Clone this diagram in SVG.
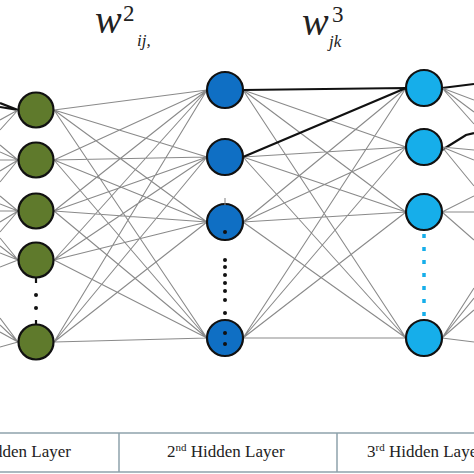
<svg xmlns="http://www.w3.org/2000/svg" width="474" height="474" viewBox="0 0 474 474">
<style>
.c{stroke:#8a8a8a;stroke-width:1.1;fill:none}
.k{stroke:#111;stroke-width:2.2;fill:none}
.g{fill:#5f7a2c;stroke:#111;stroke-width:2.2}
.d{fill:#0f6fc4;stroke:#111;stroke-width:2.2}
.l{fill:#16aeea;stroke:#111;stroke-width:2.2}
.dot{fill:#111}
text{font-family:Liberation Serif, Times New Roman, serif}
</style>
<rect width="474" height="474" fill="#fff"/>
<g id="titles" fill="#222">
<text x="95" y="33" font-size="40" font-style="italic">w</text>
<text x="123" y="21" font-size="23">2</text>
<text x="137" y="46" font-size="17" font-style="italic">ij,</text>
<text x="302" y="35" font-size="40" font-style="italic">w</text>
<text x="332" y="22" font-size="23">3</text>
<text x="329" y="47" font-size="17" font-style="italic">jk</text>
</g>
<g id="connectors">
<path class="k" d="M0,103L18,110M0,107L18,110"/>
<path class="c" d="M0,120L18,110M0,130L18,110
M0,145L18,160M0,152L18,160M0,160L18,160M0,171L18,160M0,182L18,160
M0,196L18,211M0,204L18,211M0,211L18,211M0,222L18,211M0,232L18,211
M0,238L18,260M0,246L18,260M0,253L18,260M0,267L18,260
M0,318L18,342M0,325L18,342M0,332L18,342M0,347L18,342"/>
<path class="c" d="
M54,110L207,90M54,110L207,157M54,110L207,222M54,110L207,338
M54,160L207,90M54,160L207,157M54,160L207,222M54,160L207,338
M54,211L207,90M54,211L207,157M54,211L207,222M54,211L207,338
M54,260L207,90M54,260L207,157M54,260L207,222M54,260L207,338
M54,342L207,90M54,342L207,157M54,342L207,222M54,342L207,338"/>
<path class="c" d="
M243,90L406,147M243,90L406,212M243,90L406,338
M243,157L406,147M243,157L406,212M243,157L406,338
M243,222L406,88M243,222L406,147M243,222L406,212M243,222L406,338
M243,338L406,88M243,338L406,147M243,338L406,212M243,338L406,338"/>
<path class="k" d="M243,90L406,88M243,157L406,88"/>
<path class="k" d="M442,88L474,84M442,150L466,135L474,133"/>
<path class="c" d="M442,88L474,100M442,88L474,112M442,88L474,124
M442,147L474,150M442,147L474,160M442,147L474,186
M442,212L474,196M442,212L474,212M442,212L474,240
M442,338L474,288M442,338L474,298M442,338L474,310M442,338L474,342"/>
</g>
<g id="layer1">
<circle class="g" cx="36" cy="110" r="17.5"/>
<circle class="g" cx="36" cy="160" r="17.5"/>
<circle class="g" cx="36" cy="211" r="17.5"/>
<circle class="g" cx="36" cy="260" r="17.5"/>
<circle class="g" cx="36" cy="342" r="17.5"/>
<path class="k" d="M36,278V283M36,320V324"/>
<circle class="dot" cx="36" cy="295" r="2"/>
<circle class="dot" cx="36" cy="308" r="2"/>
</g>
<g id="layer2">
<circle class="d" cx="225" cy="90" r="18"/>
<circle class="d" cx="225" cy="157" r="18"/>
<circle class="d" cx="225" cy="222" r="18"/>
<circle class="d" cx="225" cy="338" r="18"/>
<path class="c" d="M225,198V205"/>
<circle class="dot" cx="225" cy="232" r="2"/>
<circle class="dot" cx="225" cy="260" r="2"/>
<circle class="dot" cx="225" cy="267" r="2"/>
<circle class="dot" cx="225" cy="275" r="2"/>
<circle class="dot" cx="225" cy="283" r="2"/>
<circle class="dot" cx="225" cy="291" r="2"/>
<circle class="dot" cx="225" cy="300" r="2"/>
<circle class="dot" cx="225" cy="313" r="2"/>
<circle class="dot" cx="225" cy="333" r="2"/>
<circle class="dot" cx="225" cy="344" r="2"/>
</g>
<g id="layer3">
<circle class="l" cx="424" cy="88" r="18"/>
<circle class="l" cx="424" cy="147" r="18"/>
<circle class="l" cx="424" cy="212" r="18"/>
<circle class="l" cx="424" cy="338" r="18"/>
<line x1="424" y1="234" x2="424" y2="320" stroke="#16aeea" stroke-width="3.5" stroke-dasharray="4 9"/>
</g>
<g id="table" fill="#222" font-size="17">
<path d="M0,433H474M0,472H474M119,433V472M337,433V472" stroke="#8ea2ac" stroke-width="1.5" fill="none"/>
<text x="71" y="457" text-anchor="end">1<tspan font-size="11" dy="-6">st</tspan><tspan dy="6"> Hidden Layer</tspan></text>
<text x="167" y="457">2<tspan font-size="11" dy="-6">nd</tspan><tspan dy="6"> Hidden Layer</tspan></text>
<text x="367" y="457">3<tspan font-size="11" dy="-6">rd</tspan><tspan dy="6"> Hidden Layer</tspan></text>
</g>
</svg>
